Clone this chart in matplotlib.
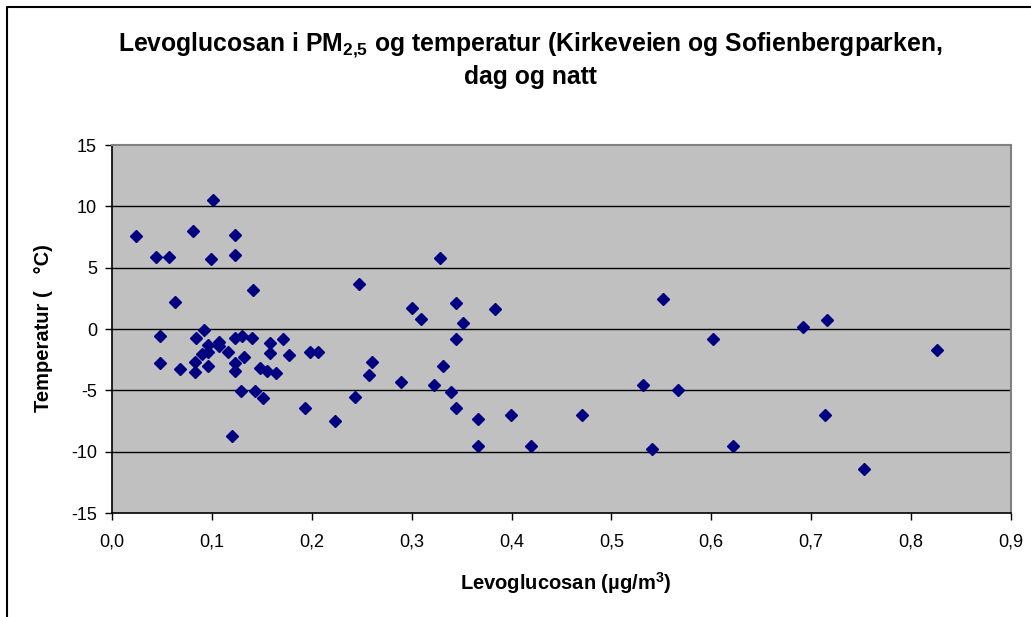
import matplotlib
matplotlib.use("Agg")
import matplotlib.pyplot as plt
from matplotlib.lines import Line2D
from matplotlib.ticker import FixedLocator, FuncFormatter

plt.rcParams['font.family'] = ['Liberation Sans', 'DejaVu Sans']
plt.rcParams['mathtext.fontset'] = 'custom'
plt.rcParams['mathtext.rm'] = 'Liberation Sans'
plt.rcParams['mathtext.bf'] = 'Liberation Sans:bold'

levoglucosan = [
    0.024, 0.044, 0.057, 0.063, 0.081, 0.101, 0.099, 0.123, 0.123, 0.141,
    0.247, 0.328, 0.300, 0.309, 0.344, 0.351, 0.383,
    0.048, 0.048, 0.068, 0.092, 0.084, 0.096, 0.096, 0.090, 0.083, 0.083,
    0.096, 0.107, 0.107, 0.116, 0.123, 0.130, 0.140, 0.132, 0.123, 0.123,
    0.129, 0.143, 0.151, 0.120, 0.148, 0.155, 0.164, 0.158, 0.158, 0.171,
    0.177, 0.198, 0.206, 0.193, 0.223, 0.243, 0.260, 0.257, 0.289, 0.322,
    0.331, 0.339, 0.344, 0.344,
    0.366, 0.366, 0.399, 0.420, 0.471, 0.532, 0.552, 0.567, 0.541, 0.602,
    0.622, 0.692, 0.716, 0.826, 0.714, 0.753,
]
temperatur = [
    7.6, 5.9, 5.9, 2.2, 8.0, 10.5, 5.7, 7.7, 6.05, 3.2,
    3.7, 5.75, 1.7, 0.8, 2.1, 0.5, 1.65,
    -0.55, -2.8, -3.25, -0.1, -0.7, -1.3, -1.9, -2.05, -2.65, -3.5,
    -3.0, -1.05, -1.4, -1.9, -0.7, -0.55, -0.7, -2.25, -2.75, -3.45,
    -5.05, -5.05, -5.6, -8.7, -3.15, -3.45, -3.6, -1.15, -1.95, -0.85,
    -2.1, -1.9, -1.9, -6.45, -7.5, -5.55, -2.65, -3.75, -4.3, -4.6,
    -3.0, -5.1, -6.45, -0.85,
    -7.35, -9.55, -7.0, -9.55, -7.0, -4.6, 2.45, -4.95, -9.75, -0.85,
    -9.55, 0.15, 0.75, -1.75, -7.05, -11.4,
]

x_ticks = [0.0, 0.1, 0.2, 0.3, 0.4, 0.5, 0.6, 0.7, 0.8, 0.9]
y_ticks = [-15, -10, -5, 0, 5, 10, 15]

W, H = 1031, 617
fig = plt.figure(figsize=(W / 100, H / 100), dpi=100)
fig.patch.set_facecolor('white')

ax = fig.add_axes([112.3 / W, 1 - 513 / H, (1010.5 - 112.3) / W, (513 - 145) / H])
ax.set_facecolor('#C0C0C0')
ax.set_xlim(0, 0.9)
ax.set_ylim(-15, 15)

for yv in y_ticks[1:-1]:
    ax.axhline(yv, color='black', lw=1.0, zorder=1)

ax.plot(levoglucosan, temperatur, linestyle='none', marker='D', ms=6.4,
        color='#000080', markeredgecolor='#000080', zorder=3, clip_on=False)

ax.xaxis.set_major_locator(FixedLocator(x_ticks))
ax.yaxis.set_major_locator(FixedLocator(y_ticks))
ax.xaxis.set_major_formatter(FuncFormatter(lambda v, p: f"{v:.1f}".replace('.', ',')))
ax.yaxis.set_major_formatter(FuncFormatter(lambda v, p: f"{int(round(v))}"))
ax.tick_params(axis='both', direction='out', length=5, width=1, colors='black',
               labelsize=13)
ax.tick_params(axis='x', pad=10)
ax.tick_params(axis='y', pad=6)

for side in ('top', 'right'):
    ax.spines[side].set_color('#808080')
    ax.spines[side].set_linewidth(1.5)
for side in ('left', 'bottom'):
    ax.spines[side].set_color('black')
    ax.spines[side].set_linewidth(1.2)

fig.text(530 / W, 1 - 45 / H,
         r"Levoglucosan i PM$_{\mathbf{2{,}5}}$ og temperatur (Kirkeveien og Sofienbergparken,",
         ha='center', va='center', fontsize=17.8, fontweight='bold')
fig.text(530 / W, 1 - 77 / H, "dag og natt",
         ha='center', va='center', fontsize=17.8, fontweight='bold')

fig.text(566 / W, 1 - 583 / H, "Levoglucosan (µg/m$^{\\mathbf{3}}$)",
         ha='center', va='center', fontsize=14.5, fontweight='bold')
fig.text(44 / W, 1 - 328 / H, "Temperatur (   °C)", rotation=90,
         ha='center', va='center', fontsize=14.5, fontweight='bold')

# outer frame (top and left edges visible)
fig.add_artist(Line2D([7 / W, 7 / W, 1.0], [0.0, 1 - 7 / H, 1 - 7 / H],
                      transform=fig.transFigure, color='black', lw=1.5))

fig.savefig('out.png', dpi=100)
